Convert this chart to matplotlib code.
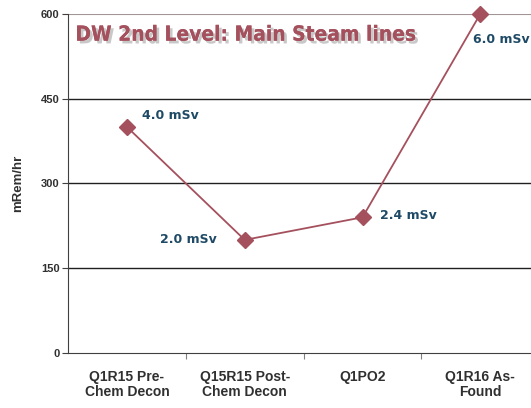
import matplotlib.pyplot as plt
import matplotlib.patheffects as pe

# Donnees du graphique
categories = ["Q1R15 Pre-\nChem Decon", "Q15R15 Post-\nChem Decon", "Q1PO2", "Q1R16 As-\nFound"]
valores = [400, 200, 240, 600]
rotulos = ["4.0 mSv", "2.0 mSv", "2.4 mSv", "6.0 mSv"]
y_ticks = [0, 150, 300, 450, 600]

cor_linha = "#a5505d"
cor_texto = "#1f4a66"

fig = plt.figure(figsize=(5.31, 4.08), dpi=100)
ax = fig.add_axes([0.128, 0.135, 0.872, 0.831])

x = list(range(len(categories)))
ax.plot(x, valores, color=cor_linha, linewidth=1.3, marker="D", markersize=8,
        markerfacecolor=cor_linha, markeredgecolor=cor_linha, zorder=3, clip_on=False)

ax.set_xlim(-0.5, 3.43)
ax.set_ylim(0, 600)
ax.set_yticks(y_ticks)
ax.set_yticklabels([str(v) for v in y_ticks], fontsize=8, fontweight="bold",
                   family="Liberation Sans", color="#303030")
ax.set_xticks([i - 0.5 for i in range(1, 4)], minor=False)
ax.set_xticklabels([])
ax.set_xticks(x, minor=True)
ax.set_xticklabels(categories, minor=True, fontsize=10, fontweight="bold",
                   family="Liberation Sans", linespacing=1.15, color="#303030")
ax.tick_params(axis="x", which="minor", length=0, pad=12)
ax.tick_params(axis="x", which="major", length=4, direction="out", color="#808080")
ax.tick_params(axis="y", length=4, color="#404040", pad=2)

# grelha
for v in [150, 300, 450]:
    ax.axhline(v, color="#202020", linewidth=1.0, zorder=1)
ax.axhline(600, color="#a09494", linewidth=1.5, zorder=1)

for s in ["top", "right"]:
    ax.spines[s].set_visible(False)
ax.spines["left"].set_color("#404040")
ax.spines["bottom"].set_color("#404040")

ax.set_ylabel("mRem/hr", fontsize=9.5, fontweight="bold", family="Liberation Sans",
              labelpad=12, color="#303030")

# rotulos dos pontos
offsets = [(15, 11, "left"), (-28, 0, "right"), (17, 2, "left"), (-7, -26, "left")]
for i, (dx, dy, ha) in enumerate(offsets):
    ax.annotate(rotulos[i], (x[i], valores[i]), xytext=(dx, dy), textcoords="offset pixels",
                ha=ha, va="center", fontsize=9, fontweight="bold", color=cor_texto,
                family="DejaVu Sans", annotation_clip=False)

# titulo
fig.text(0.142, 0.915, "DW 2nd Level: Main Steam lines", fontsize=15, fontweight="bold",
         family="DejaVu Sans", fontstretch="condensed", color=cor_linha, va="center", ha="left",
         path_effects=[pe.withSimplePatchShadow(offset=(2, -2), shadow_rgbFace="#bbbbbb", alpha=0.8),
                       pe.Normal()])

fig.savefig("out.png", dpi=100)
